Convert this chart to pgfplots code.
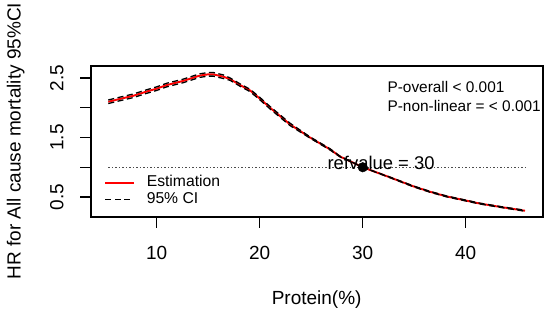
\documentclass[border=0pt]{standalone}
\usepackage{pgfplots}
\pgfplotsset{compat=1.18}
\usepackage{fontspec}
\setmainfont{Liberation Sans}
\begin{document}
\begin{tikzpicture}
\useasboundingbox (-91bp,-95bp) rectangle (455bp,217bp);
\begin{axis}[
  scale only axis,
  width=452bp, height=151bp,
  xmin=3.62, xmax=47.5,
  ymin=0.165, ymax=2.70,
  axis line style={line width=1.1bp},
  tick pos=left,
  tick align=outside,
  major tick length=10.5bp,
  xtick style={draw=black, line width=1.2bp},
  ytick style={draw=black, line width=1.2bp},
  xtick={10,20,30,40},
  ytick={0.5,1,1.5,2,2.5},
  yticklabels={0.5,,1.5,,2.5},
  /pgf/number format/assume math mode=true,
  xticklabel style={font=\fontsize{19bp}{22bp}\selectfont, anchor=base, yshift=-31.8bp},
  yticklabel style={font=\fontsize{19bp}{22bp}\selectfont, rotate=90, anchor=base},
  yticklabel shift=17.2bp,
  xlabel={Protein(\%)},
  ylabel={HR for All cause mortality 95\%CI},
  every axis x label/.style={at={(axis description cs:0.4993,0)}, anchor=base, yshift=-87.5bp, font=\fontsize{19bp}{22bp}\selectfont},
  every axis y label/.style={at={(axis description cs:-0.1555,0.503)}, rotate=90, anchor=base, font=\fontsize{19bp}{22bp}\selectfont},
  legend style={at={(rel axis cs:0.0294,0.170)}, anchor=west, draw=none, fill=none,
    font=\fontsize{15.7bp}{18bp}\selectfont, inner sep=0pt, row sep=2.7bp,
    nodes={inner sep=0pt, text height=11bp, text depth=3bp}},
  legend image code/.code={\draw[#1] (0bp,0bp) -- (28.4bp,0bp);},
  legend cell align=left,
  /tikz/every odd column/.append style={column sep=12bp},
]
\addplot[red, line width=1.9bp] coordinates {
(5.30,2.10) (6.5,2.15) (7.73,2.20) (9.0,2.27) (10.0,2.32) (10.97,2.38) (12.58,2.45) (14.2,2.54) (15.0,2.56) (15.5,2.56) (16.47,2.52) (17.12,2.48) (18.09,2.38) (19.06,2.29) (20.03,2.15) (21.0,2.00) (22.94,1.72) (24.88,1.50) (26.83,1.30) (27.8,1.18) (30.0,1.00) (32.65,0.83) (34.91,0.68) (36.5,0.59) (38.16,0.51) (41.39,0.39) (43.5,0.33) (45.76,0.27)
};
\addlegendentry{Estimation}
\addplot[black, dash pattern=on 6bp off 3.5bp, line width=1.3bp] coordinates {
(5.30,2.13) (6.5,2.18) (7.73,2.23) (9.0,2.30) (10.0,2.35) (10.97,2.41) (12.58,2.48) (14.2,2.57) (15.0,2.59) (15.5,2.59) (16.47,2.55) (17.12,2.50) (18.09,2.40) (19.06,2.31) (20.03,2.17) (21.0,2.02) (22.94,1.74) (24.88,1.51) (26.83,1.31) (27.8,1.185) (30.0,1.00) (32.65,0.835) (34.91,0.687) (36.5,0.597) (38.16,0.517) (41.39,0.397) (43.5,0.337) (45.76,0.278)
};
\addlegendentry{95\% CI}
\addplot[black, dash pattern=on 6bp off 3.5bp, line width=1.3bp, forget plot] coordinates {
(5.30,2.07) (6.5,2.12) (7.73,2.17) (9.0,2.24) (10.0,2.29) (10.97,2.35) (12.58,2.42) (14.2,2.51) (15.0,2.53) (15.5,2.53) (16.47,2.49) (17.12,2.46) (18.09,2.36) (19.06,2.27) (20.03,2.13) (21.0,1.98) (22.94,1.70) (24.88,1.49) (26.83,1.29) (27.8,1.175) (30.0,1.00) (32.65,0.825) (34.91,0.673) (36.5,0.583) (38.16,0.503) (41.39,0.383) (43.5,0.323) (45.76,0.262)
};
\addplot[black!70, dash pattern=on 1.2bp off 2.3bp, line width=1bp, forget plot] coordinates {(5.3,1) (45.76,1)};
\addplot[only marks, mark=*, mark size=4.8bp, black, forget plot] coordinates {(30,1)};
\node[anchor=base, font=\fontsize{18.4bp}{21bp}\selectfont, inner sep=0pt] at (axis cs:31.78,0.955) {refvalue = 30};
\node[anchor=base west, font=\fontsize{15.4bp}{18bp}\selectfont, inner sep=0pt] at (axis cs:32.39,2.247) {P-overall < 0.001};
\node[anchor=base west, font=\fontsize{15.4bp}{18bp}\selectfont, inner sep=0pt] at (axis cs:32.39,1.938) {P-non-linear = < 0.001};
\end{axis}
\end{tikzpicture}
\end{document}
